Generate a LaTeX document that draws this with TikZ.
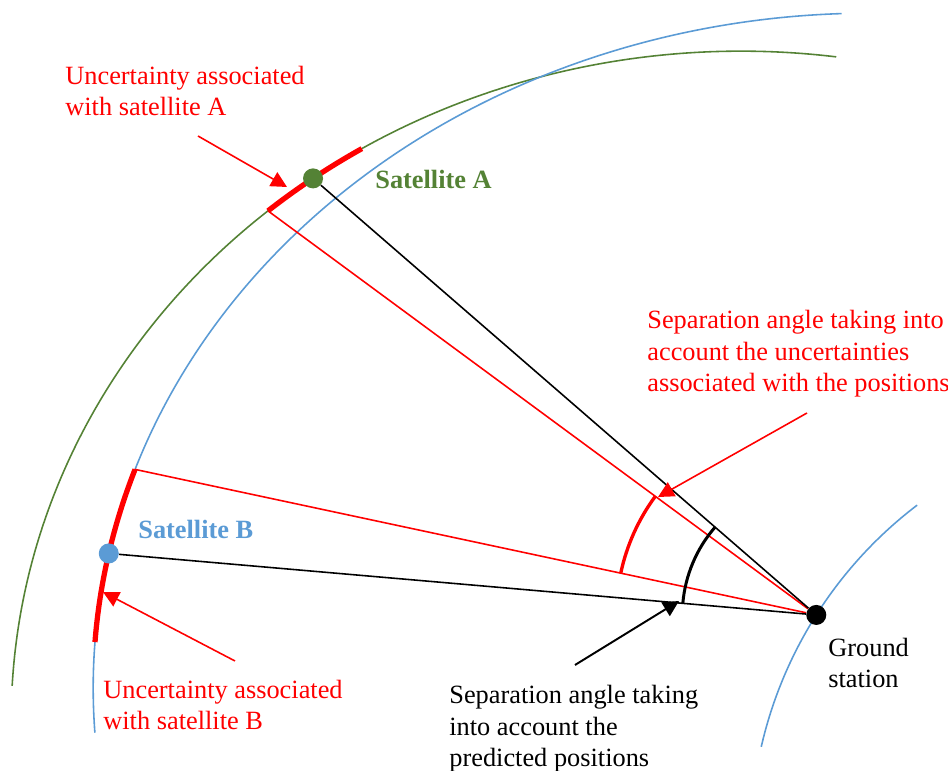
\documentclass[tikz,border=0pt]{standalone}
\usepackage{fontspec}
\setmainfont{Liberation Serif}
\usetikzlibrary{arrows.meta,calc}
\definecolor{sred}{HTML}{FF0000}
\definecolor{sgreen}{HTML}{548235}
\definecolor{sblue}{HTML}{5B9BD5}
\begin{document}
\begin{tikzpicture}[x=0.02cm, y=0.02cm,
  lbl/.style={font=\fontsize{15}{18.2}\selectfont, inner sep=0pt, align=left, anchor=base west},
  blbl/.style={lbl, font=\fontsize{15}{18.2}\selectfont\bfseries},
  orbit/.style={line width=0.9pt},
  unc/.style={sred, line width=3pt},
  ray/.style={line width=0.9pt},
  pointer/.style={line width=0.9pt, -{Triangle[length=9pt,width=9pt]}},
  dot/.style={circle, inner sep=0pt, minimum size=11.4pt}
]
\useasboundingbox (0,0) rectangle (948,771);
% orbit centres
\coordinate (gc) at (741,50);
\coordinate (bc) at (870,83);
\coordinate (ec) at (1172.5,-70);

% orbits and Earth
\draw[orbit, sgreen] ($(gc)+(177:14.6cm and 13.4cm)$) arc[start angle=177, end angle=82.5, x radius=14.6cm, y radius=13.4cm];
\draw[orbit, sblue] ($(bc)+(183.8:15.54cm and 13.5cm)$) arc[start angle=183.8, end angle=92.1, x radius=15.54cm, y radius=13.5cm];
\draw[orbit, sblue] ($(ec)+(167.1:8.44cm)$) arc[start angle=167.1, end angle=127.25, radius=8.44cm];

% uncertainty ends
\coordinate (ua1) at ($(gc)+(130.4:14.6cm and 13.4cm)$);
\coordinate (ub1) at ($(bc)+(161.1:15.54cm and 13.5cm)$);

% uncertainty arcs
\draw[unc] (ua1) arc[start angle=130.4, end angle=121.3, x radius=14.6cm, y radius=13.4cm];
\draw[unc] (ub1) arc[start angle=161.1, end angle=176.1, x radius=15.54cm, y radius=13.5cm];

% dots
\node[dot, fill=sgreen] (satA) at ($(gc)+(125.9:14.6cm and 13.4cm)$) {};
\node[dot, fill=sblue] (satB) at ($(bc)+(168.5:15.54cm and 13.5cm)$) {};
\node[dot, fill=black] (gs) at ($(ec)+(147.6:8.44cm)$) {};

% rays
\draw[ray, sred] (ua1) -- (gs);
\draw[ray, sred] (ub1) -- (gs);
\draw[ray] (satA) -- (gs);
\draw[ray] (satB) -- (gs);

% separation angles
\draw[line width=1.7pt] ($(gs)+(139.05:2.68cm)$) arc[start angle=139.05, end angle=175.03, radius=2.68cm];
\draw[sred, line width=1.9pt] ($(gs)+(143.57:4cm)$) arc[start angle=143.57, end angle=167.93, radius=4cm];

% pointers
\coordinate (t1) at (198,635); \coordinate (h1) at (287,584);
\coordinate (t2) at (807,358); \coordinate (h2) at (658,274);
\coordinate (t3) at (235,110); \coordinate (h3) at (103,179);
\coordinate (t4) at (575,106); \coordinate (h4) at (679,170);
\draw[pointer, sred] (t1) -- (h1);
\draw[pointer, sred] (t2) -- (h2);
\draw[pointer, sred] (t3) -- (h3);
\draw[pointer, line width=1.1pt] (t4) -- (h4);

% labels (anchored at the baseline of their last line)
\node[lbl, sred] (la) at (65,655) {Uncertainty associated\\with satellite A};
\node[blbl, sgreen] (na) at (375,582) {Satellite A};
\node[lbl, sred] (lu) at (647,379) {Separation angle taking into\\account the uncertainties\\associated with the positions};
\node[blbl, sblue] (nb) at (138,232) {Satellite B};
\node[lbl, sred] (lb) at (103,41) {Uncertainty associated\\with satellite B};
\node[lbl] (lp) at (449,4) {Separation angle taking\\into account the\\predicted positions};
\node[lbl] (lg) at (828,83) {Ground\\station};
\end{tikzpicture}
\end{document}
